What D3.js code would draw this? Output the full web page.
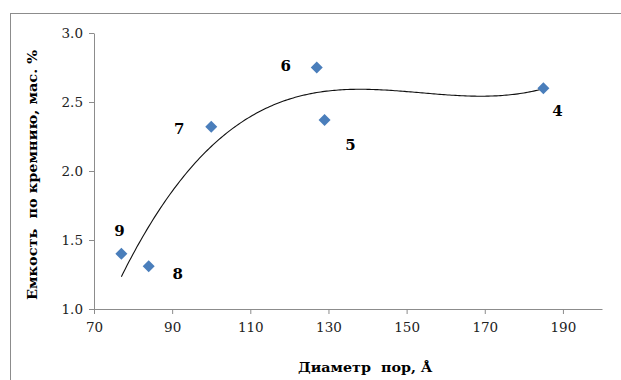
<!DOCTYPE html>
<html>
<head>
<meta charset="utf-8">
<script src="https://cdn.jsdelivr.net/npm/d3@7"></script>
<style>
  body { margin: 0; background: #fff; }
  svg text { font-family: "DejaVu Serif", serif !important; white-space: pre; }
</style>
</head>
<body>
<div id="chart"></div>
<script>
"use strict";

// data
const poreDiameter = [185, 129, 127, 100, 84, 77];
const siliconCapacity = [2.60, 2.37, 2.75, 2.32, 1.31, 1.40];
const sampleLabels = ["4", "5", "6", "7", "8", "9"];
const xTicks = [70, 90, 110, 130, 150, 170, 190];
const yTicks = [1.0, 1.5, 2.0, 2.5, 3.0];

const width = 621, height = 380;
const svg = d3.select("#chart").append("svg")
    .attr("width", width)
    .attr("height", height);

// outer frame, cut off by the picture at right and bottom
svg.append("rect")
    .attr("x", 10.5).attr("y", 13.5)
    .attr("width", 700).attr("height", 500)
    .attr("fill", "none")
    .attr("stroke", "#8c8c8c");

const x = d3.scaleLinear().domain([70, 200]).range([94, 602]);
const y = d3.scaleLinear().domain([1.0, 3.0]).range([309, 33]);

// x axis
const xAxis = svg.append("g")
    .attr("transform", "translate(0,309)")
    .call(d3.axisBottom(x).tickValues(xTicks).tickSize(5).tickSizeOuter(0).tickPadding(8));
xAxis.select(".domain").attr("stroke", "#8c8c8c");
xAxis.selectAll(".tick line").attr("stroke", "#8c8c8c");
xAxis.selectAll("text").attr("font-size", 13.5).attr("fill", "#222");

// y axis
const yAxis = svg.append("g")
    .attr("transform", "translate(94,0)")
    .call(d3.axisLeft(y).tickValues(yTicks).tickFormat(d3.format(".1f"))
        .tickSize(5).tickSizeOuter(0).tickPadding(6));
yAxis.select(".domain").attr("stroke", "#8c8c8c");
yAxis.selectAll(".tick line").attr("stroke", "#8c8c8c");
yAxis.selectAll("text").attr("font-size", 13.5).attr("fill", "#222");

// cubic least squares trendline (like the spreadsheet's polynomial trend)
function cubicFit(xs, ys) {
    const m = d3.mean(xs);
    const n = 4;
    const A = Array.from({ length: n }, () => new Array(n + 1).fill(0));
    xs.forEach((xv, k) => {
        const t = xv - m;
        for (let i = 0; i < n; i++) {
            for (let j = 0; j < n; j++) A[i][j] += Math.pow(t, i + j);
            A[i][n] += Math.pow(t, i) * ys[k];
        }
    });
    for (let c = 0; c < n; c++) {
        let p = c;
        for (let r = c + 1; r < n; r++) if (Math.abs(A[r][c]) > Math.abs(A[p][c])) p = r;
        [A[c], A[p]] = [A[p], A[c]];
        for (let r = 0; r < n; r++) {
            if (r === c) continue;
            const f = A[r][c] / A[c][c];
            for (let k = c; k <= n; k++) A[r][k] -= f * A[c][k];
        }
    }
    const coef = A.map((row, i) => row[n] / row[i]);
    return xv => {
        const t = xv - m;
        return coef[0] + coef[1] * t + coef[2] * t * t + coef[3] * t * t * t;
    };
}

const trend = cubicFit(poreDiameter, siliconCapacity);
const xMin = d3.min(poreDiameter), xMax = d3.max(poreDiameter);
const trendPts = d3.range(xMin, xMax + 0.01, 0.5).map(v => [v, trend(v)]);

svg.append("path")
    .datum(trendPts)
    .attr("fill", "none")
    .attr("stroke", "#111")
    .attr("stroke-width", 1.1)
    .attr("d", d3.line().x(d => x(d[0])).y(d => y(d[1])));

// markers
const diamond = d3.symbol().type(d3.symbolSquare).size(72);
svg.append("g")
    .selectAll("path")
    .data(poreDiameter)
    .join("path")
    .attr("d", diamond)
    .attr("transform", (d, i) => `translate(${x(d)},${y(siliconCapacity[i])}) rotate(45)`)
    .attr("fill", "#4a7ebb");

// point labels, offset from their marker
const labelOffsets = [[14, 23], [26, 25], [-31, -2], [-32, 2], [29, 8], [-2, -23]];
svg.append("g")
    .selectAll("text")
    .data(sampleLabels)
    .join("text")
    .attr("x", (d, i) => x(poreDiameter[i]) + labelOffsets[i][0])
    .attr("y", (d, i) => y(siliconCapacity[i]) + labelOffsets[i][1])
    .attr("text-anchor", "middle")
    .attr("dominant-baseline", "central")
    .attr("font-size", 15)
    .attr("font-weight", "bold")
    .text(d => d);

// axis titles
svg.append("text")
    .attr("x", 365).attr("y", 372)
    .attr("text-anchor", "middle")
    .attr("font-size", 13)
    .attr("font-weight", "bold")
    .attr("textLength", 134)
    .attr("lengthAdjust", "spacingAndGlyphs")
    .text("Диаметр  пор, Å");

svg.append("text")
    .attr("transform", "translate(37,175) rotate(-90)")
    .attr("text-anchor", "middle")
    .attr("font-size", 13)
    .attr("font-weight", "bold")
    .attr("textLength", 250)
    .attr("lengthAdjust", "spacingAndGlyphs")
    .text("Емкость  по кремнию, мас. %");
</script>
</body>
</html>
